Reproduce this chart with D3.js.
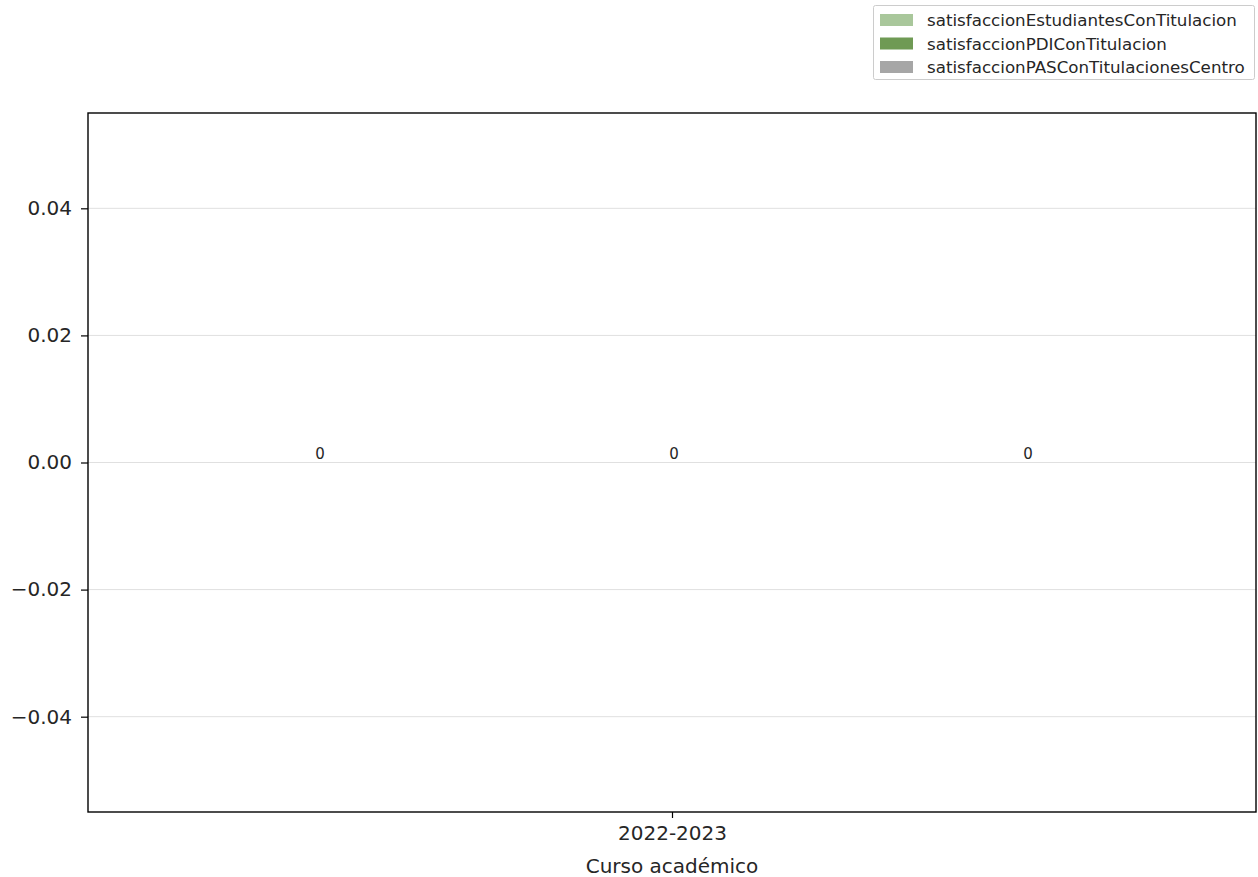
<!DOCTYPE html>
<html><head><meta charset="utf-8">
<script src="https://cdn.jsdelivr.net/npm/d3@7"></script>
<style>body{margin:0;background:#fff;} svg{display:block;font-family:"DejaVu Sans",sans-serif;}</style>
</head><body>
<svg id="chart" width="1258" height="877"></svg>
<script>
const categories = ["2022-2023"];
const seriesNames = ["satisfaccionEstudiantesConTitulacion","satisfaccionPDIConTitulacion","satisfaccionPASConTitulacionesCentro"];
const seriesValues = [[0],[0],[0]];
const seriesColors = ["#a9c79b","#6f9a54","#a6a6a6"];
const yTicks = [-0.04,-0.02,0,0.02,0.04];
const xLabel = "Curso académico";

const svg = d3.select("#chart");
const L = 88, R = 1256, T = 113, B = 812;
const txt = "#262626";
const y = d3.scaleLinear().domain([-0.055,0.055]).range([B,T]);
const n = seriesNames.length;
const x0 = d3.scaleLinear().domain([-1.65,1.65]).range([L,R]);

// gridlines
svg.append("g").selectAll("line").data(yTicks).join("line")
  .attr("x1",L).attr("x2",R).attr("y1",d=>y(d)).attr("y2",d=>y(d))
  .attr("stroke","#e0e0e0").attr("stroke-width",1);

// bars
const bw = 1;
seriesNames.forEach((s,i)=>{
  const g = svg.append("g");
  categories.forEach((c,ci)=>{
    const v = seriesValues[i][ci];
    const cx = ci + (i-(n-1)/2)*bw;
    g.append("rect").attr("x",x0(cx-bw/2)).attr("width",x0(cx+bw/2)-x0(cx-bw/2))
      .attr("y",Math.min(y(v),y(0))).attr("height",Math.abs(y(v)-y(0)))
      .attr("fill",seriesColors[i]);
    g.append("text").attr("x",x0(cx)+2).attr("y",y(v)-4).attr("text-anchor","middle")
      .attr("font-size",15).attr("fill",txt).text(v);
  });
});

// y axis
const yAxis = d3.axisLeft(y).tickValues(yTicks).tickSize(7).tickPadding(9)
  .tickFormat(d=>d3.format(".2f")(d).replace("-","\u2212"));
const ya = svg.append("g").attr("transform",`translate(${L},0)`).call(yAxis);
ya.select(".domain").remove();
ya.selectAll("text").attr("font-size",20).attr("fill",txt).attr("font-family","DejaVu Sans");
ya.selectAll("line").attr("stroke","#000").attr("stroke-width",1.2);

// x axis
const xa = svg.append("g").attr("transform",`translate(0,${B})`)
  .call(d3.axisBottom(x0).tickValues(categories.map((c,i)=>i)).tickFormat((d)=>categories[d]).tickSize(6).tickPadding(8));
xa.select(".domain").remove();
xa.selectAll("text").attr("font-size",20).attr("fill",txt).attr("font-family","DejaVu Sans");
xa.selectAll("line").attr("stroke","#000").attr("stroke-width",1.2);

svg.append("text").attr("x",(L+R)/2).attr("y",873).attr("text-anchor","middle")
  .attr("font-size",20).attr("fill",txt).text(xLabel);

// frame
svg.append("rect").attr("x",L).attr("y",T).attr("width",R-L).attr("height",B-T)
  .attr("fill","none").attr("stroke","#000").attr("stroke-width",1.4);

// legend
const lg = svg.append("g");
lg.append("rect").attr("x",873.5).attr("y",5.5).attr("width",381).attr("height",74)
  .attr("fill","#fff").attr("stroke","#ccc").attr("rx",2);
seriesNames.forEach((s,i)=>{
  const yy = 20 + i*23.5;
  lg.append("rect").attr("x",880).attr("y",yy-6).attr("width",33).attr("height",12).attr("fill",seriesColors[i]);
  lg.append("text").attr("x",927).attr("y",yy+6).attr("font-size",16.7).attr("fill",txt).text(s);
});
</script>
</body></html>
